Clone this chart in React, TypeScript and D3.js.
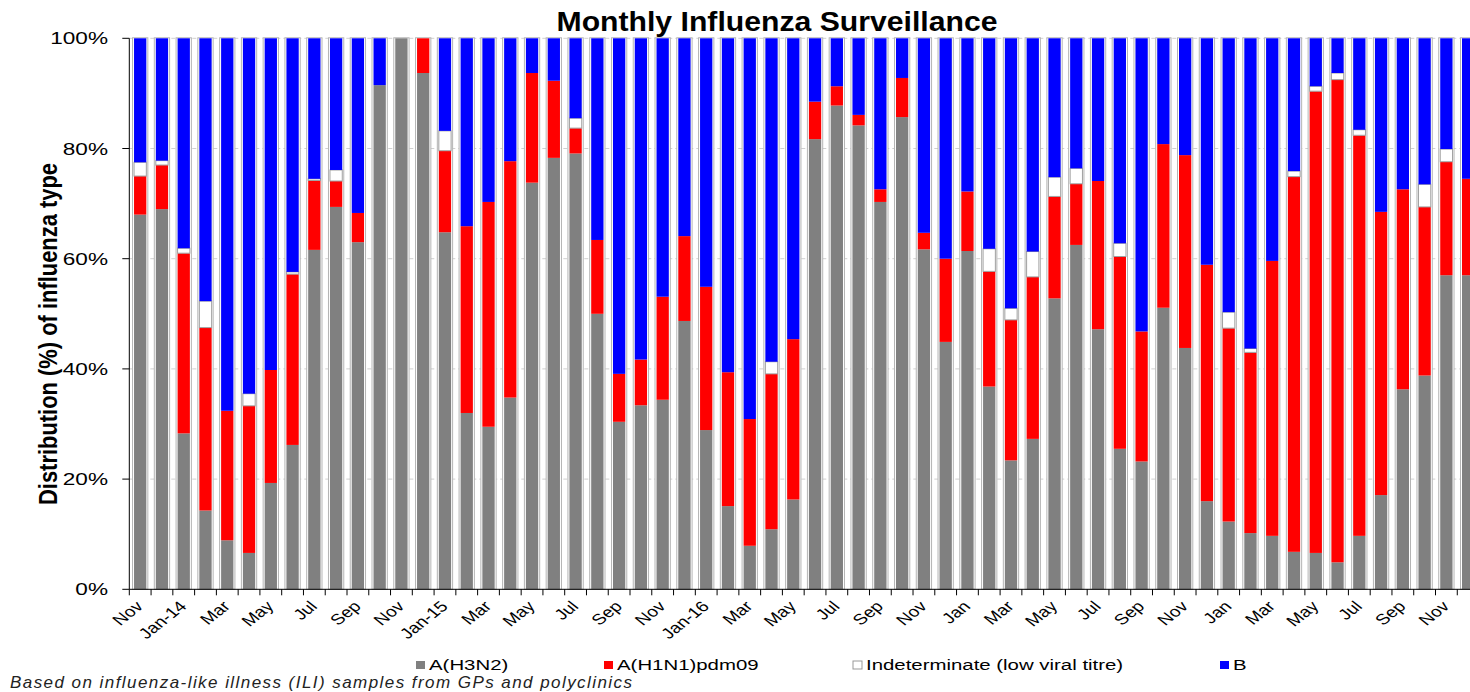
import React, { useEffect, useRef } from "react";
import * as d3 from "d3";

// months shown on the x axis, one bar each
const months = [
  "Nov-13", "Dec-13",
  "Jan-14", "Feb-14", "Mar-14", "Apr-14", "May-14", "Jun-14", "Jul-14", "Aug-14", "Sep-14", "Oct-14", "Nov-14", "Dec-14",
  "Jan-15", "Feb-15", "Mar-15", "Apr-15", "May-15", "Jun-15", "Jul-15", "Aug-15", "Sep-15", "Oct-15", "Nov-15", "Dec-15",
  "Jan-16", "Feb-16", "Mar-16", "Apr-16", "May-16", "Jun-16", "Jul-16", "Aug-16", "Sep-16", "Oct-16", "Nov-16", "Dec-16",
  "Jan-17", "Feb-17", "Mar-17", "Apr-17", "May-17", "Jun-17", "Jul-17", "Aug-17", "Sep-17", "Oct-17", "Nov-17", "Dec-17",
  "Jan-18", "Feb-18", "Mar-18", "Apr-18", "May-18", "Jun-18", "Jul-18", "Aug-18", "Sep-18", "Oct-18", "Nov-18", "Dec-18",
];

// label printed under every second month
const tickLabels = [
  "Nov", "Jan-14", "Mar", "May", "Jul", "Sep",
  "Nov", "Jan-15", "Mar", "May", "Jul", "Sep",
  "Nov", "Jan-16", "Mar", "May", "Jul", "Sep",
  "Nov", "Jan", "Mar", "May", "Jul", "Sep",
  "Nov", "Jan", "Mar", "May", "Jul", "Sep",
  "Nov",
];

// % of samples per type
const h3n2 = [
  68, 69,
  28.3, 14.3, 8.9, 6.6, 19.3, 26.2, 61.6, 69.4, 63, 91.5, 100, 93.7,
  64.8, 32, 29.5, 34.8, 73.8, 78.3, 79.1, 50, 30.4, 33.4, 34.4, 48.7,
  28.9, 15.1, 7.9, 10.9, 16.3, 81.7, 87.8, 84.2, 70.3, 85.7, 61.7, 44.9,
  61.4, 36.8, 23.4, 27.3, 52.8, 62.5, 47.2, 25.5, 23.2, 51.1, 43.8, 16,
  12.3, 10.2, 9.7, 6.8, 6.6, 4.9, 9.7, 17.1, 36.3, 38.8, 57, 57,
];
const h1n1 = [
  7, 8,
  32.7, 33.2, 23.5, 26.7, 20.5, 31, 12.6, 4.7, 5.3, 0, 0, 6.3,
  14.8, 33.9, 40.8, 42.9, 19.9, 14, 4.6, 13.4, 8.7, 8.3, 18.7, 15.4,
  26, 24.3, 23, 28.2, 29.1, 6.8, 3.5, 1.9, 2.3, 7.1, 3, 15.1,
  10.8, 20.9, 25.5, 29.4, 18.5, 11.1, 26.9, 34.9, 23.6, 29.7, 35, 42.9,
  35.1, 32.8, 49.9, 68.1, 83.8, 87.6, 72.7, 51.4, 36.3, 30.6, 20.6, 17.5,
];
const indeterminate = [
  2.5, 0.8,
  0.9, 4.8, 0, 2.2, 0, 0.4, 0.3, 2, 0, 0, 0, 0,
  3.6, 0, 0, 0, 0, 0, 1.8, 0, 0, 0, 0, 0,
  0, 0, 0, 2.2, 0, 0, 0, 0, 0, 0, 0, 0,
  0, 4.1, 2.1, 4.6, 3.5, 2.8, 0, 2.4, 0, 0, 0, 0,
  2.9, 0.7, 0, 1, 0.9, 1.2, 1, 0, 0, 4.1, 2.3, 0,
];
const typeB = [
  22.5, 22.2,
  38.1, 47.7, 67.6, 64.5, 60.2, 42.4, 25.5, 23.9, 31.7, 8.5, 0, 0,
  16.8, 34.1, 29.7, 22.3, 6.3, 7.7, 14.5, 36.6, 60.9, 58.3, 46.9, 35.9,
  45.1, 60.6, 69.1, 58.7, 54.6, 11.5, 8.7, 13.9, 27.4, 7.2, 35.3, 40,
  27.8, 38.2, 49, 38.7, 25.2, 23.6, 25.9, 37.2, 53.2, 19.2, 21.2, 41.1,
  49.7, 56.3, 40.4, 24.1, 8.7, 6.3, 16.6, 31.5, 27.4, 26.5, 20.1, 25.5,
];

const seriesNames = ["A(H3N2)", "A(H1N1)pdm09", "Indeterminate (low viral titre)", "B"];
const seriesColors = ["#808080", "#ff0000", "#ffffff", "#0000ff"];
const yTicks = [0, 0.2, 0.4, 0.6, 0.8, 1];

const W = 1470;
const H = 692;
// the source picture is stretched sideways, text included
const STRETCH = 1.33;
const FONT = "Liberation Sans, Arial, sans-serif";

const App = () => {
  const svgRef = useRef(null);

  useEffect(() => {
    const svg = d3.select(svgRef.current);
    svg.selectAll("*").remove();

    const left = 129.3, top = 38.3, bottom = 589.3;
    const right = left + months.length * 21.77; // runs past the picture edge

    const rows = months.map((m, i) => ({
      month: m,
      [seriesNames[0]]: h3n2[i],
      [seriesNames[1]]: h1n1[i],
      [seriesNames[2]]: indeterminate[i],
      [seriesNames[3]]: typeB[i],
    }));
    const stacked = d3.stack().keys(seriesNames).offset(d3.stackOffsetExpand)(rows);

    const x = d3.scaleBand().domain(months).range([left, right]).paddingInner(0.435).paddingOuter(0.2175);
    const y = d3.scaleLinear().domain([0, 1]).range([bottom, top]);
    const bw = x.bandwidth();

    // grid
    svg.append("g")
      .selectAll("line")
      .data(yTicks.filter((t) => t > 0))
      .join("line")
      .attr("x1", left).attr("x2", right)
      .attr("y1", (d) => y(d)).attr("y2", (d) => y(d))
      .attr("stroke", "#d0d0d0")
      .attr("stroke-dasharray", "4,3");

    // bar outlines
    svg.append("g")
      .selectAll("rect")
      .data(months)
      .join("rect")
      .attr("x", (d) => x(d) - 1.5)
      .attr("y", top - 0.5)
      .attr("width", bw + 3)
      .attr("height", bottom - top + 0.5)
      .attr("fill", "#fff")
      .attr("stroke", "#b4b4b4")
      .attr("stroke-width", 1);

    stacked.forEach((s, si) => {
      svg.append("g")
        .selectAll("rect")
        .data(s.filter((d) => d[1] - d[0] > 0))
        .join("rect")
        .attr("x", (d) => x(d.data.month))
        .attr("y", (d) => y(d[1]))
        .attr("width", bw)
        .attr("height", (d) => y(d[0]) - y(d[1]))
        .attr("fill", seriesColors[si])
        .attr("stroke", si === 2 ? "#a0a0a0" : "none")
        .attr("stroke-width", 1);
    });

    // y axis
    const yAxis = svg.append("g");
    yAxis.append("line")
      .attr("x1", left).attr("x2", left).attr("y1", top).attr("y2", bottom)
      .attr("stroke", "#000");
    yAxis.selectAll("line.tick")
      .data(yTicks)
      .join("line")
      .attr("class", "tick")
      .attr("x1", left - 7).attr("x2", left)
      .attr("y1", (d) => y(d)).attr("y2", (d) => y(d))
      .attr("stroke", "#000");
    yAxis.selectAll("text")
      .data(yTicks)
      .join("text")
      .attr("transform", (d) => `translate(108,${y(d) + 6}) scale(${STRETCH},1)`)
      .attr("text-anchor", "end")
      .attr("font-family", FONT)
      .attr("font-size", 17)
      .text((d) => d3.format(".0%")(d));

    // x axis
    const xAxis = svg.append("g");
    xAxis.append("line")
      .attr("x1", left).attr("x2", right).attr("y1", bottom).attr("y2", bottom)
      .attr("stroke", "#000");
    xAxis.selectAll("line.tick")
      .data(d3.range(months.length + 1))
      .join("line")
      .attr("class", "tick")
      .attr("x1", (i) => left + i * x.step()).attr("x2", (i) => left + i * x.step())
      .attr("y1", bottom).attr("y2", bottom + 6)
      .attr("stroke", "#000");
    xAxis.selectAll("text")
      .data(tickLabels)
      .join("text")
      .attr("transform", (d, i) => {
        const cx = x(months[i * 2]) + bw / 2 + 4;
        return `translate(${cx},${bottom + 18}) scale(1.27,1) rotate(-45)`;
      })
      .attr("text-anchor", "end")
      .attr("font-family", FONT)
      .attr("font-size", 15)
      .text((d) => d);

    // title
    svg.append("text")
      .attr("x", 777).attr("y", 31)
      .attr("text-anchor", "middle")
      .attr("font-family", FONT)
      .attr("font-weight", "bold")
      .attr("font-size", 27)
      .attr("textLength", 441)
      .attr("lengthAdjust", "spacingAndGlyphs")
      .text("Monthly Influenza Surveillance");

    // y label
    svg.append("text")
      .attr("transform", "translate(57,334) rotate(-90)")
      .attr("text-anchor", "middle")
      .attr("font-family", "Liberation Sans Narrow, Arial Narrow, Liberation Sans, sans-serif")
      .attr("font-weight", "bold")
      .attr("font-size", 26)
      .attr("textLength", 342)
      .attr("lengthAdjust", "spacingAndGlyphs")
      .text("Distribution (%) of influenza type");

    // legend
    const legendX = [416, 604, 853, 1220];
    const lg = svg.append("g");
    seriesNames.forEach((name, i) => {
      lg.append("rect")
        .attr("x", legendX[i]).attr("y", 661)
        .attr("width", 9).attr("height", 8)
        .attr("fill", seriesColors[i])
        .attr("stroke", i === 2 ? "#999" : "none");
      lg.append("text")
        .attr("transform", `translate(${legendX[i] + 13},670) scale(1.36,1)`)
        .attr("font-family", FONT)
        .attr("font-size", 15)
        .text(name);
    });

    svg.append("text")
      .attr("x", 10).attr("y", 688)
      .attr("font-family", FONT)
      .attr("font-style", "italic")
      .attr("font-size", 17)
      .attr("textLength", 622)
      .attr("fill", "#222")
      .text("Based on influenza-like illness (ILI) samples from GPs and polyclinics");
  }, []);

  return (
    <svg
      ref={svgRef}
      width={W}
      height={H}
      style={{ position: "absolute", left: 0, top: 0, background: "#fff" }}
    ></svg>
  );
};

export default App;
